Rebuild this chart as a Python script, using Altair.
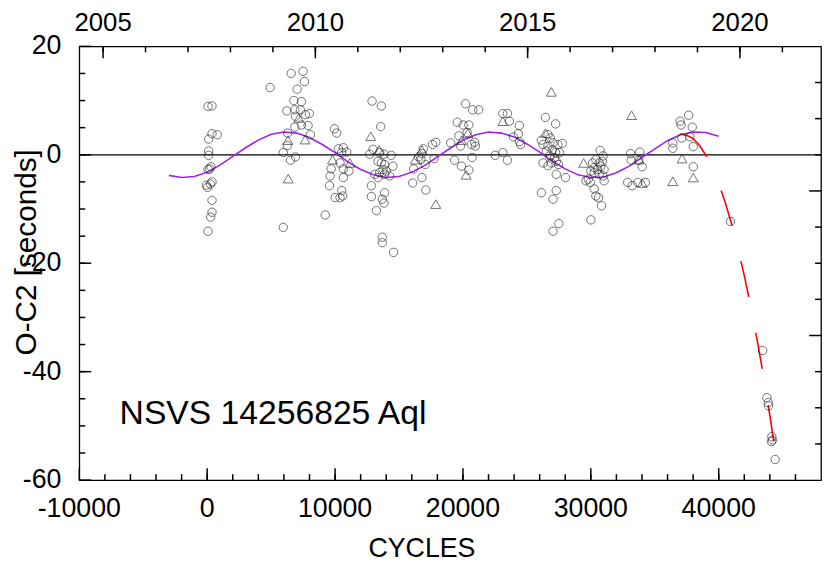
import altair as alt
import pandas as pd

FONT = "Liberation Sans"

# ---- data ----
circ_cycle = [66, 376, 376, 789, 118, 118, 118, 299, 200, 66, 376, 247, 15, -60, 376, 376, 273, 66,
              4919, 6571, 7500, 7603, 7035, 6777, 7370, 6235, 6855, 7293, 6906, 7680, 7990, 6855, 7887, 7370, 8068, 6287, 5951, 6261, 6519, 6906, 5951,
              9952, 10132, 10261, 9694, 9617, 9565, 10003, 10390, 9229, 10390, 10649, 10907, 10520, 10649, 11088, 10649, 10520, 10598,
              12895, 13617, 13566, 12714, 12972, 13488, 13824, 14392, 13359, 13617, 13875, 14521, 13101, 13488, 13875, 14263, 13359, 13746, 14004, 12843, 13875, 12843, 13695, 13824, 13230, 13695, 13695, 14572,
              16069, 16792, 17100, 16146, 16715, 16895, 16792, 16533, 17050, 17618, 17876, 17747,
              20199, 20766, 21231, 19554, 20018, 20457, 20328, 19683, 19038, 19812, 20663, 20921, 20973, 20715, 19347, 19890, 20457,
              23116, 23477, 23632, 24407, 24330, 23942, 24511, 24420, 22522, 23116, 23477,
              26446, 27246, 26136, 26652, 26833, 26265, 26652, 27040, 27427, 27762, 26988, 27246, 27556, 26523, 26781, 27169, 26265, 26652, 26910, 27298, 27479, 27298, 28020, 26136, 27298, 27040, 27504, 27040,
              30730, 30962, 30394, 30136, 30652, 30910, 30265, 30523, 30781, 31040, 30007, 30265, 30652, 30962, 29620, 29801, 29956, 31040, 30265, 30394, 30601, 30833, 30007,
              33106, 33158, 33829, 33752, 34010, 32880, 33235, 33674, 34268,
              36978, 37649, 37055, 37933, 36410, 36410, 37107, 37752, 38010, 38010,
              40920, 43430, 43766, 43869, 43895, 44153, 44204, 44127, 44411]
circ_oc = [8.9, 9.0, 3.9, 3.7, 2.9, 0.7, -0.1, -2.2, -2.6, -2.7, -5.0, -5.4, -6.0, -5.6, -8.4, -10.6, -11.5, -14.1,
           12.4, 15.0, 15.4, 13.5, 12.1, 10.0, 9.8, 8.1, 8.3, 8.3, 7.1, 7.4, 7.6, 5.1, 5.4, 5.5, 3.7, 4.0, 0.4, 1.7, -1.0, -0.4, -13.4,
           4.8, 4.0, 1.1, -2.6, -3.9, -5.7, -7.9, -7.9, -11.1, -1.5, 1.3, 0.5, 0.4, -2.6, -3.0, -4.2, -6.6, -7.6,
           9.9, 9.0, 5.2, 0.1, 1.0, 0.4, 0.1, -0.1, -1.2, -1.5, -1.8, -2.1, -3.6, -3.3, -3.6, -3.9, -4.2, -2.7, -3.0, -5.7, -7.0, -7.7, -8.2, -8.9, -10.3, -15.2, -16.2, -18.0,
           -5.2, -4.2, -6.5, -2.6, -0.9, 1.1, 0.2, -0.4, -1.8, 1.9, 2.3, -0.7,
           9.4, 8.3, 8.3, 6.0, 5.5, 5.5, 4.1, 3.5, 2.2, 1.6, 1.9, 2.3, 1.6, -0.5, -1.0, -2.1, -2.8,
           7.6, 7.6, 6.2, 5.4, 3.9, 3.3, 1.9, 2.4, -0.1, 0.4, -1.0,
           6.9, 5.7, 2.7, 3.7, 3.1, 1.9, 1.6, 2.2, 1.9, 2.1, 0.9, 0.4, 0.4, 0.7, -0.2, -0.5, -1.5, -2.0, -1.5, -1.2, -1.8, -3.6, -4.2, -7.0, -6.6, -8.2, -12.7, -14.1,
           0.8, -0.2, -0.9, -1.5, -1.5, -1.2, -2.4, -2.7, -2.1, -2.7, -3.0, -3.3, -3.6, -3.9, -4.8, -4.5, -5.1, -4.8, -6.3, -7.6, -7.9, -9.4, -12.0,
           0.2, -1.0, 0.5, -1.0, -2.2, -5.1, -5.7, -5.1, -5.1,
           6.2, 7.3, 5.5, 5.1, 2.2, 1.2, 3.1, 3.3, 1.5, -2.2,
           -12.3, -36.1, -44.8, -45.7, -46.3, -52.0, -52.6, -52.9, -56.2]

tri_cycle = [7164, 6313, 7655, 6339, 9797, 11165, 12791, 13437, 16792, 16276, 17876, 19890, 20250, 20380,
             23116, 26446, 26910, 29440, 33184, 34010, 33780, 37133, 36410, 38010]
tri_oc = [6.8, 2.7, 2.8, -4.4, -0.9, -1.5, 3.4, 0.9, 0.9, -0.9, -9.1, 2.7, -3.7, 4.0,
          6.2, 4.0, 11.6, -1.5, 7.3, -5.2, -0.9, -0.7, -4.9, -4.2]

fit_cycle = [-3000, -2000, -1000, 0, 1000, 2000, 3000, 4000, 5000, 6000, 7000, 8000, 9000, 10000,
             11000, 12000, 13000, 14000, 15000, 16000, 17000, 18000, 19000, 20000, 21000, 22000,
             23000, 24000, 25000, 26000, 27000, 28000, 29000, 30000, 31000, 32000, 33000, 34000,
             35000, 36000, 37000, 38000, 39000, 40000]
fit_oc = [-3.8, -4.2, -4.0, -3.2, -1.9, -0.3, 1.3, 2.7, 3.8, 4.2, 4.0, 3.2, 1.9, 0.4,
          -1.3, -2.7, -3.7, -4.2, -4.0, -3.2, -2.0, -0.4, 1.2, 2.7, 3.7, 4.2,
          4.0, 3.3, 2.0, 0.5, -1.2, -2.6, -3.7, -4.2, -4.1, -3.3, -2.1, -0.5,
          1.1, 2.6, 3.7, 4.2, 4.1, 3.4]

quad_cycle = [37000, 37500, 38000, 38500, 39000, 39500, 40000, 40500, 41000, 41500, 42000,
              42500, 43000, 43500, 44000, 44400]
quad_oc = [3.8, 3.6, 3.0, 1.7, -0.1, -2.4, -5.3, -8.7, -12.7, -17.2, -22.3,
           -27.9, -34.1, -40.8, -48.1, -54.3]

# axis ticks / labels
x_major = [-10000, 0, 10000, 20000, 30000, 40000]
x_minor = list(range(-8000, 48000, 2000))
y_major = [-60, -40, -20, 0, 20]
y_minor = list(range(-55, 20, 5))
year_major = [2005, 2010, 2015, 2020]
year_minor = list(range(2005, 2022))
right_major = [1, 2]
right_minor = [0.25, 0.5, 0.75, 1.25, 1.5, 1.75, 2.25, 2.5, 2.75]

label_text = "NSVS 14256825 Aql"
x_title = "CYCLES"
y_title = "O-C2 [seconds]"

# ---- scales ----
X_DOM = [-10000, 48000]
Y_DOM = [-60, 20]
YEAR_DOM = [2004.44, 2021.91]   # secondary (top) axis range, years
R_DOM = [0, 3]                  # secondary (right) axis range, unlabelled
W, H = 749, 438
MAJOR, MINOR = 12, 6
TICK_W = 1.5

XS = alt.Scale(domain=X_DOM, nice=False, zero=False)
YS = alt.Scale(domain=Y_DOM, nice=False, zero=False)

# expressions mapping the secondary axes onto the primary scales
YEAR_TO_CYCLE = (f"{X_DOM[0]} + (datum.v - {YEAR_DOM[0]}) * "
                 f"{X_DOM[1] - X_DOM[0]} / {YEAR_DOM[1] - YEAR_DOM[0]}")
R_TO_OC = f"{Y_DOM[0]} + datum.v * {Y_DOM[1] - Y_DOM[0]} / {R_DOM[1] - R_DOM[0]}"


def df_of(values):
    return pd.DataFrame({"v": values})


def bottom_ticks(values, length):
    return alt.Chart(df_of(values)).mark_rule(color="black", strokeWidth=TICK_W).encode(
        x=alt.X("v:Q", scale=XS, axis=None), y=alt.value(H), y2=alt.value(H - length))


def top_ticks(values, length):
    return alt.Chart(df_of(values)).transform_calculate(c=YEAR_TO_CYCLE).mark_rule(
        color="black", strokeWidth=TICK_W).encode(
        x=alt.X("c:Q", scale=XS, axis=None), y=alt.value(0), y2=alt.value(length))


def left_ticks(values, length):
    return alt.Chart(df_of(values)).mark_rule(color="black", strokeWidth=TICK_W).encode(
        y=alt.Y("v:Q", scale=YS, axis=None), x=alt.value(0), x2=alt.value(length))


def right_ticks(values, length):
    return alt.Chart(df_of(values)).transform_calculate(o=R_TO_OC).mark_rule(
        color="black", strokeWidth=TICK_W).encode(
        y=alt.Y("o:Q", scale=YS, axis=None), x=alt.value(W), x2=alt.value(W - length))


circ_df = pd.DataFrame({"cycle": circ_cycle, "oc": circ_oc})
tri_df = pd.DataFrame({"cycle": tri_cycle, "oc": tri_oc})
fit_df = pd.DataFrame({"cycle": fit_cycle, "oc": fit_oc})
quad_df = pd.DataFrame({"cycle": quad_cycle, "oc": quad_oc})
zero_df = pd.DataFrame({"oc": [0]})
txt_df = pd.DataFrame({"cycle": [-6850], "oc": [-49.6], "t": [label_text]})

zero = alt.Chart(zero_df).mark_rule(color="black", strokeWidth=1.3).encode(
    y=alt.Y("oc:Q", scale=YS, axis=None))

fit = alt.Chart(fit_df).mark_line(color="#a020f0", strokeWidth=1.6).encode(
    x=alt.X("cycle:Q", scale=XS, axis=None), y=alt.Y("oc:Q", scale=YS, axis=None))

quad = alt.Chart(quad_df).mark_line(color="#ff0000", strokeWidth=1.6, strokeDash=[37, 37]).encode(
    x=alt.X("cycle:Q", scale=XS, axis=None), y=alt.Y("oc:Q", scale=YS, axis=None))

circles = alt.Chart(circ_df).mark_point(
    shape="circle", size=72, filled=False, color="#222222", strokeWidth=0.9
).encode(x=alt.X("cycle:Q", scale=XS, axis=None), y=alt.Y("oc:Q", scale=YS, axis=None))

triangles = alt.Chart(tri_df).mark_point(
    shape="triangle-up", size=100, filled=False, color="#222222", strokeWidth=0.9
).encode(x=alt.X("cycle:Q", scale=XS, axis=None), y=alt.Y("oc:Q", scale=YS, axis=None))

label = alt.Chart(txt_df).mark_text(
    align="left", baseline="alphabetic", font=FONT, fontSize=34, color="black"
).encode(
    x=alt.X("cycle:Q", scale=XS, axis=None), y=alt.Y("oc:Q", scale=YS, axis=None), text="t:N")

# tick labels and titles
bottom_labels = alt.Chart(df_of(x_major)).transform_calculate(lab="'' + datum.v").mark_text(
    align="center", baseline="top", font=FONT, fontSize=27, color="black"
).encode(x=alt.X("v:Q", scale=XS, axis=None), y=alt.value(H + 16), text="lab:N")

left_labels = alt.Chart(df_of(y_major)).transform_calculate(lab="'' + datum.v").mark_text(
    align="right", baseline="middle", font=FONT, fontSize=27, color="black"
).encode(y=alt.Y("v:Q", scale=YS, axis=None), x=alt.value(-18), text="lab:N")

top_labels = alt.Chart(df_of(year_major)).transform_calculate(
    c=YEAR_TO_CYCLE, lab="'' + datum.v").mark_text(
    align="center", baseline="bottom", font=FONT, fontSize=26, color="black"
).encode(x=alt.X("c:Q", scale=XS, axis=None), y=alt.value(-10), text="lab:N")

xtitle = alt.Chart(pd.DataFrame({"t": [x_title]})).mark_text(
    align="center", baseline="top", font=FONT, fontSize=27, color="black"
).encode(x=alt.value(346), y=alt.value(H + 57), text="t:N")

ytitle = alt.Chart(pd.DataFrame({"t": [y_title]})).mark_text(
    align="center", baseline="bottom", angle=270, font=FONT, fontSize=30, color="black"
).encode(x=alt.value(-38), y=alt.value(208), text="t:N")

ticks = [
    bottom_ticks(x_minor, MINOR), bottom_ticks(x_major, MAJOR),
    top_ticks(year_minor, MINOR), top_ticks(year_major, MAJOR),
    left_ticks(y_minor, MINOR), left_ticks(y_major, MAJOR),
    right_ticks(right_minor, MINOR), right_ticks(right_major, MAJOR),
]

chart = alt.layer(
    zero, fit, quad, circles, triangles, label, *ticks,
    bottom_labels, left_labels, top_labels, xtitle, ytitle
).properties(
    width=W, height=H,
    autosize=alt.AutoSizeParams(type="none"),
    padding={"left": 72, "top": 36, "right": 2, "bottom": 82},
    background="white",
).configure_view(
    stroke="black", strokeWidth=1.3
)

chart.save("out.html", embed_options={"renderer": "svg", "actions": False})
